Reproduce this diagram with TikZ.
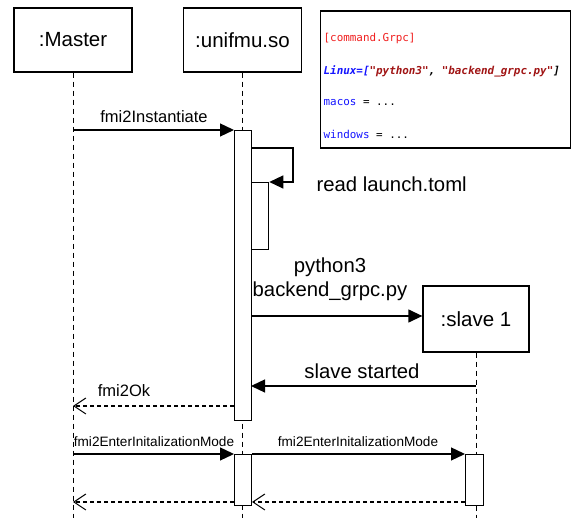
\documentclass[tikz,border=0pt]{standalone}
\usepackage{fontspec}
\setmainfont{Liberation Sans}
\newfontfamily\codefont{DejaVu Sans Mono}
\usetikzlibrary{arrows.meta}
\definecolor{kwblue}{RGB}{20,20,255}
\definecolor{strred}{RGB}{160,20,20}
\definecolor{secred}{RGB}{240,30,30}
\begin{document}
\begin{tikzpicture}[x=1pt,y=-1pt,line width=1.3pt,
  actor/.style={draw,minimum width=118pt,minimum height=64pt,font=\fontsize{20.5}{24}\selectfont,inner sep=0},
  bar/.style={draw,fill=white,inner sep=0,anchor=north west},
  life/.style={dash pattern=on 5pt off 4pt,line width=1pt},
  msg/.style={-{Triangle[length=14pt,width=13pt]}},
  ret/.style={dash pattern=on 4pt off 3pt,-{Straight Barb[length=12pt,width=16pt,line width=1pt]}},
  lbl/.style={font=\fontsize{16.5}{19}\selectfont,inner sep=1pt},
  small/.style={font=\fontsize{13.6}{16}\selectfont,inner sep=1pt},
  big/.style={font=\fontsize{20.3}{24}\selectfont,inner sep=1pt,align=center}]
\useasboundingbox (0,0) rectangle (571,518);
% actors
\node[actor] (master) at (73,40) {:Master};
\node[actor] (unif) at (242.5,40) {:unifmu.so};
\node[draw,minimum width=106pt,minimum height=66pt,font=\fontsize{20.5}{24}\selectfont,inner sep=0] (slave) at (476,319) {:slave 1};
% code box
\node[draw,anchor=north west,minimum width=250pt,minimum height=137pt,inner sep=0] (code) at (319.5,10.5) {};
\begin{scope}[every node/.style={anchor=west,inner sep=0,font=\codefont\fontsize{10.9}{12}\selectfont}]
\node (c1) at (323,38) {\textcolor{secred}{[}\textcolor{secred}{command.Grpc}\textcolor{secred}{]}};
\node (c2) at (323,71) {\textcolor{kwblue}{\bfseries\itshape Linux=[}\textcolor{strred}{\bfseries\itshape"python3"}\textbf{\itshape, }\textcolor{strred}{\bfseries\itshape"backend\_grpc.py"}\textbf{\itshape ]}};
\node (c3) at (323,103) {\textcolor{kwblue}{macos} = ...};
\node (c4) at (323,134) {\textcolor{kwblue}{windows} = ...};
\end{scope}
% lifelines
\coordinate (mEnd) at (73,518);
\coordinate (uEnd) at (242.5,518);
\coordinate (sEnd) at (476,518);
\draw[life] (master.south) -- (mEnd);
\draw[life] (unif.south) -- (uEnd);
\draw[life] (slave.south) -- (sEnd);
% activations
\node[bar,minimum width=17pt,minimum height=290pt] (a1) at (234,130) {};
\node[bar,minimum width=17pt,minimum height=67pt] (a2) at (251,182) {};
\node[bar,minimum width=17pt,minimum height=51pt] (a3) at (234,454) {};
\node[bar,minimum width=18pt,minimum height=51pt] (a4) at (465,454) {};
% fmi2Instantiate
\coordinate (m1) at (73,130);
\draw[msg] (m1) -- (a1.north west);
\node[lbl,anchor=south] (l1) at (154,124) {fmi2Instantiate};
% self message
\coordinate (s0) at (251,148);
\coordinate (s1) at (293,148);
\coordinate (s2) at (293,182);
\draw[msg] (s0) -- (s1) -- (s2) -- (a2.north east);
\node[big,anchor=west] (l2) at (315,184) {read launch.toml};
% python3
\coordinate (p0) at (251,316);
\draw[msg] (p0) -- (slave.west |- p0);
\node[big] (l3) at (330,279) {python3\\backend\_grpc.py};
% slave started
\coordinate (q0) at (476,386);
\coordinate (q1) at (251,386);
\draw[msg] (q0) -- (q1);
\node[big,anchor=south] (l4) at (362,380) {slave started};
% fmi2Ok
\coordinate (r0) at (234,406);
\coordinate (r1) at (73,406);
\draw[ret] (r0) -- (r1);
\node[lbl,anchor=south] (l5) at (124,398) {fmi2Ok};
% EnterInit
\coordinate (e0) at (73,454);
\draw[msg] (e0) -- (a3.north west);
\node[small,anchor=south] (l6) at (154,448) {fmi2EnterInitalizationMode};
\draw[msg] (a3.north east) -- (a4.north west);
\node[small,anchor=south] (l7) at (358,448) {fmi2EnterInitalizationMode};
% returns
\coordinate (t0) at (465,502);
\coordinate (t1) at (252,502);
\draw[ret] (t0) -- (t1);
\coordinate (t2) at (234,502);
\coordinate (t3) at (73,502);
\draw[ret] (t2) -- (t3);
\end{tikzpicture}
\end{document}
